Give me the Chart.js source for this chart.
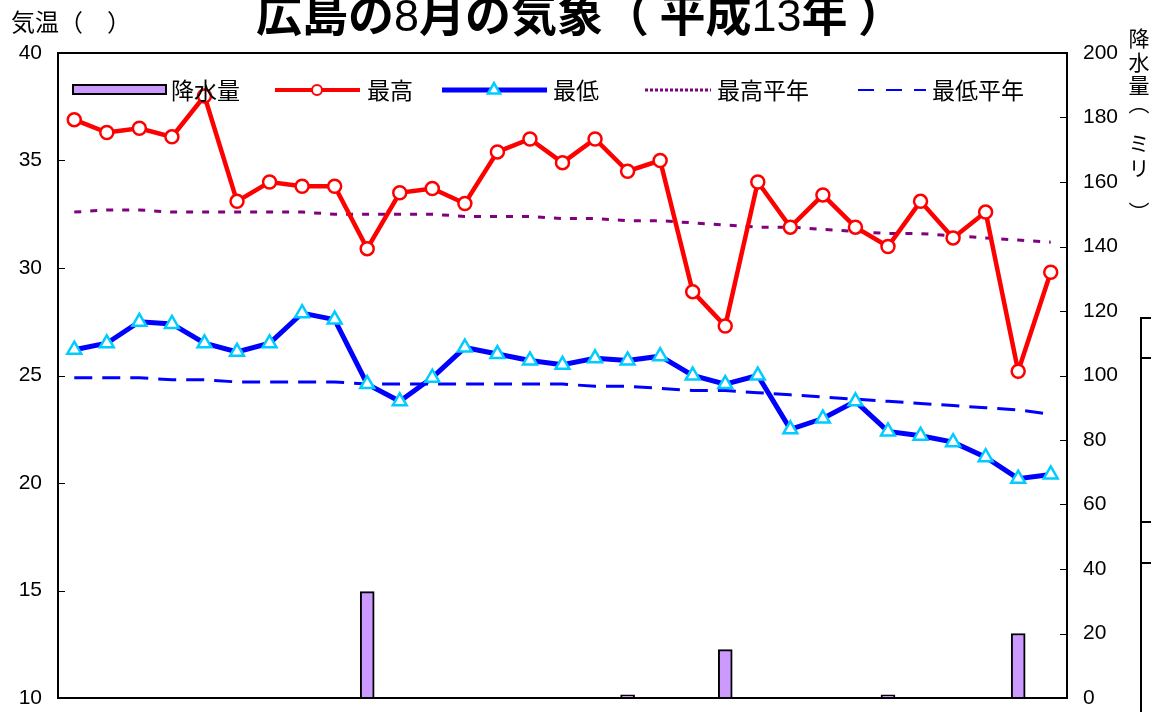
<!DOCTYPE html>
<html lang="ja">
<head>
<meta charset="utf-8">
<title>広島の8月の気象（平成13年）</title>
<script src="https://cdn.jsdelivr.net/npm/chart.js@4.4.1/dist/chart.umd.min.js"></script>
<style>
    html, body { margin: 0; padding: 0; background: #fff; }
    #wrap { width: 1151px; height: 712px; }
</style>
</head>
<body>
<div id="wrap"><canvas id="weatherChart" width="1151" height="712"></canvas></div>
<script>
// days of August 2001 (平成13年)
const days = ['1', '2', '3', '4', '5', '6', '7', '8', '9', '10', '11', '12', '13', '14', '15', '16',
    '17', '18', '19', '20', '21', '22', '23', '24', '25', '26', '27', '28', '29', '30', '31'];

// 最高気温 (℃)
const maxTemp = [36.9, 36.3, 36.5, 36.1, 38.0, 33.1, 34.0, 33.8, 33.8, 30.9, 33.5, 33.7, 33.0, 35.4, 36.0, 34.9,
    36.0, 34.5, 35.0, 28.9, 27.3, 34.0, 31.9, 33.4, 31.9, 31.0, 33.1, 31.4, 32.6, 25.2, 29.8];

// 最低気温 (℃)
const minTemp = [26.2, 26.5, 27.5, 27.4, 26.5, 26.1, 26.5, 27.9, 27.6, 24.6, 23.8, 24.9, 26.3, 26.0, 25.7, 25.5,
    25.8, 25.7, 25.9, 25.0, 24.6, 25.0, 22.5, 23.0, 23.8, 22.4, 22.2, 21.9, 21.2, 20.2, 20.4];

// 最高平年
const maxNormal = [32.6, 32.7, 32.7, 32.6, 32.6, 32.6, 32.6, 32.6, 32.5, 32.5, 32.5, 32.5, 32.4, 32.4, 32.4, 32.3,
    32.3, 32.2, 32.2, 32.1, 32.0, 31.9, 31.9, 31.8, 31.7, 31.6, 31.6, 31.5, 31.4, 31.3, 31.2];

// 最低平年
const minNormal = [24.9, 24.9, 24.9, 24.8, 24.8, 24.7, 24.7, 24.7, 24.7, 24.6, 24.6, 24.6, 24.6, 24.6, 24.6, 24.6,
    24.5, 24.5, 24.4, 24.3, 24.3, 24.2, 24.1, 24.0, 23.9, 23.8, 23.7, 23.6, 23.5, 23.4, 23.2];

// 降水量 (mm), null = no rain
const rain = [null, null, null, null, null, null, null, null, null, 33, null, null, null, null, null, null,
    null, 1, null, null, 15, null, null, null, null, 1, null, null, null, 20, null];

// axis ticks
const tempTicks = [10, 15, 20, 25, 30, 35, 40];
const rainTicks = [0, 20, 40, 60, 80, 100, 120, 140, 160, 180, 200];

const CJK = '"Noto Sans CJK JP", "Noto Sans", sans-serif';
const LATIN = '"Liberation Sans", Arial, sans-serif';

const RED = '#ff0000';
const BLUE = '#0000ff';
const CYAN = '#00ccff';
const PURPLE = '#800080';
const LAVENDER = '#cc99ff';

function drawTriangle(ctx, x, y, r) {
    ctx.beginPath();
    for (let i = 0; i < 3; i++) {
        const a = -Math.PI / 2 + i * 2 * Math.PI / 3;
        const px = x + Math.cos(a) * r;
        const py = y + Math.sin(a) * r;
        if (i === 0) ctx.moveTo(px, py); else ctx.lineTo(px, py);
    }
    ctx.closePath();
}

/**
 * Frame, inward tick marks, titles and the in-plot legend
 */
const decorPlugin = {
    id: 'decor',
    afterDatasetsDraw(chart) {
        const ctx = chart.ctx;
        const area = chart.chartArea;
        const yL = chart.scales.y;
        const yR = chart.scales.y1;

        ctx.save();
        ctx.strokeStyle = '#000';
        ctx.lineWidth = 2;
        ctx.strokeRect(area.left, area.top, area.right - area.left, area.bottom - area.top);

        // tick marks pointing into the plot
        ctx.lineWidth = 1;
        tempTicks.forEach(v => {
            const py = Math.round(yL.getPixelForValue(v)) + 0.5;
            ctx.beginPath();
            ctx.moveTo(area.left, py);
            ctx.lineTo(area.left + 7, py);
            ctx.stroke();
        });
        rainTicks.forEach(v => {
            const py = Math.round(yR.getPixelForValue(v)) + 0.5;
            ctx.beginPath();
            ctx.moveTo(area.right - 7, py);
            ctx.lineTo(area.right, py);
            ctx.stroke();
        });
        ctx.restore();
    },
    afterDraw(chart) {
        const ctx = chart.ctx;
        ctx.save();
        ctx.fillStyle = '#000';

        // title with mixed fonts
        const parts = [
            ['広島の', 'bold 46px ' + CJK],
            ['8', '45px ' + LATIN],
            ['月の気象', 'bold 46px ' + CJK],
            ['（ 平成', 'bold 46px ' + CJK],
            ['13', '45px ' + LATIN],
            ['年 ）', 'bold 46px ' + CJK],
        ];
        let total = 0;
        parts.forEach(p => { ctx.font = p[1]; total += ctx.measureText(p[0]).width; });
        let tx = 580 - total / 2;
        ctx.textBaseline = 'alphabetic';
        ctx.textAlign = 'left';
        parts.forEach(p => {
            ctx.font = p[1];
            ctx.fillText(p[0], tx, 31);
            tx += ctx.measureText(p[0]).width;
        });

        // left axis title
        ctx.font = '24px ' + CJK;
        ctx.textBaseline = 'middle';
        ctx.fillText('気温（　）', 11, 22);

        // right axis title, stacked vertically
        const vchars = [['降', 38], ['水', 62], ['量', 85], ['︵', 103], ['ミ', 143], ['リ', 168], ['︶', 212]];
        ctx.font = '21px ' + CJK;
        ctx.textAlign = 'center';
        vchars.forEach(c => {
            ctx.fillText(c[0], 1139, c[1]);
        });
        ctx.textAlign = 'left';

        // legend inside the plot
        const ly = 90;
        ctx.font = '23px ' + CJK;
        ctx.lineWidth = 2;
        ctx.fillStyle = LAVENDER;
        ctx.fillRect(73, 85, 93, 9);
        ctx.strokeStyle = '#000';
        ctx.strokeRect(73, 85, 93, 9);
        ctx.fillStyle = '#000';
        ctx.fillText('降水量', 171, ly);

        ctx.strokeStyle = RED;
        ctx.lineWidth = 4;
        ctx.beginPath(); ctx.moveTo(275, ly); ctx.lineTo(360, ly); ctx.stroke();
        ctx.beginPath(); ctx.arc(317, ly, 5, 0, Math.PI * 2);
        ctx.fillStyle = '#fff'; ctx.fill();
        ctx.lineWidth = 2; ctx.stroke();
        ctx.fillStyle = '#000';
        ctx.fillText('最高', 367, ly);

        ctx.strokeStyle = BLUE;
        ctx.lineWidth = 5;
        ctx.beginPath(); ctx.moveTo(442, ly); ctx.lineTo(547, ly); ctx.stroke();
        drawTriangle(ctx, 494, ly, 7);
        ctx.fillStyle = '#fff'; ctx.fill();
        ctx.strokeStyle = CYAN; ctx.lineWidth = 2.5; ctx.stroke();
        ctx.fillStyle = '#000';
        ctx.fillText('最低', 553, ly);

        ctx.strokeStyle = PURPLE;
        ctx.lineWidth = 3;
        ctx.setLineDash([3, 2]);
        ctx.beginPath(); ctx.moveTo(645, ly); ctx.lineTo(711, ly); ctx.stroke();
        ctx.fillText('最高平年', 717, ly);

        ctx.strokeStyle = BLUE;
        ctx.lineWidth = 2;
        ctx.setLineDash([16, 12]);
        ctx.beginPath(); ctx.moveTo(858, ly); ctx.lineTo(926, ly); ctx.stroke();
        ctx.setLineDash([]);
        ctx.fillText('最低平年', 932, ly);

        // edge of the neighbouring table
        ctx.strokeStyle = '#000';
        ctx.lineWidth = 2;
        ctx.beginPath();
        ctx.moveTo(1141, 712); ctx.lineTo(1141, 318); ctx.lineTo(1151, 318);
        ctx.moveTo(1141, 358); ctx.lineTo(1151, 358);
        ctx.moveTo(1141, 522); ctx.lineTo(1151, 522);
        ctx.moveTo(1141, 563); ctx.lineTo(1151, 563);
        ctx.stroke();
        ctx.restore();
    }
};

const tickFont = { family: LATIN, size: 21 };

// fixed axis widths, no extra padding for the end labels
function fitLeft(scale) {
    scale.width = 58;
    scale.paddingTop = 0;
    scale.paddingBottom = 0;
}

function fitRight(scale) {
    scale.width = 84;
    scale.paddingTop = 0;
    scale.paddingBottom = 0;
}

new Chart(document.getElementById('weatherChart'), {
    data: {
        labels: days,
        datasets: [
            {
                type: 'line',
                label: '最高',
                data: maxTemp,
                yAxisID: 'y',
                order: 1,
                borderColor: RED,
                borderWidth: 4.5,
                tension: 0,
                pointStyle: 'circle',
                pointRadius: 6.5,
                pointBorderWidth: 2.5,
                pointBackgroundColor: '#fff',
                pointBorderColor: RED,
            },
            {
                type: 'line',
                label: '最低',
                data: minTemp,
                yAxisID: 'y',
                order: 2,
                borderColor: BLUE,
                borderWidth: 5,
                tension: 0,
                pointStyle: 'triangle',
                pointRadius: 8,
                pointBorderWidth: 2.5,
                pointBackgroundColor: '#fff',
                pointBorderColor: CYAN,
            },
            {
                type: 'line',
                label: '最高平年',
                data: maxNormal,
                yAxisID: 'y',
                order: 3,
                borderColor: PURPLE,
                borderWidth: 3,
                borderDash: [7, 9],
                tension: 0,
                pointRadius: 0,
            },
            {
                type: 'line',
                label: '最低平年',
                data: minNormal,
                yAxisID: 'y',
                order: 4,
                borderColor: BLUE,
                borderWidth: 3,
                borderDash: [18, 10],
                tension: 0,
                pointRadius: 0,
            },
            {
                type: 'bar',
                label: '降水量',
                data: rain,
                yAxisID: 'y1',
                order: 5,
                backgroundColor: LAVENDER,
                borderColor: '#000',
                borderWidth: 2,
                barThickness: 14,
            },
        ],
    },
    options: {
        responsive: false,
        animation: false,
        layout: { padding: { top: 53, bottom: 14, left: 0, right: 0 } },
        plugins: {
            legend: { display: false },
            title: { display: false },
            tooltip: { enabled: false },
        },
        scales: {
            x: {
                type: 'category',
                display: false,
                offset: true,
            },
            y: {
                position: 'left',
                min: tempTicks[0],
                max: tempTicks[tempTicks.length - 1],
                ticks: { stepSize: 5, padding: 16, color: '#000', font: tickFont },
                grid: { display: false, drawTicks: false },
                border: { display: false },
                afterFit: fitLeft,
            },
            y1: {
                position: 'right',
                min: rainTicks[0],
                max: rainTicks[rainTicks.length - 1],
                ticks: { stepSize: 20, padding: 16, color: '#000', font: tickFont },
                grid: { display: false, drawTicks: false },
                border: { display: false },
                afterFit: fitRight,
            },
        },
    },
    plugins: [decorPlugin],
});
</script>
</body>
</html>
